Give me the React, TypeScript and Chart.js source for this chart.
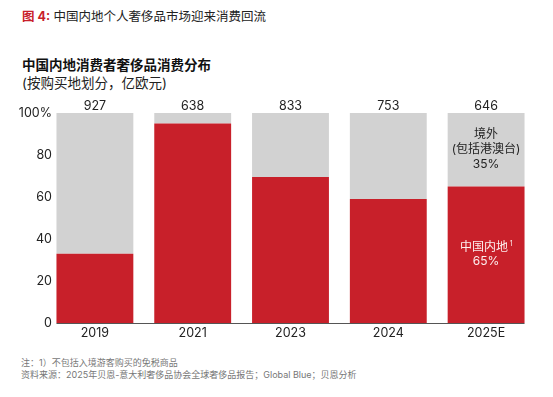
import React, { useEffect, useRef } from "react";
import { Chart, registerables } from "chart.js";

Chart.register(...registerables);

const categories = ["2019", "2021", "2023", "2024", "2025E"];
const mainlandShare = [33, 95, 69.5, 59, 65];
const overseasShare = [67, 5, 30.5, 41, 35];
const totals = ["927", "638", "833", "753", "646"];
const yTicks = [0, 20, 40, 60, 80, 100];

const RED = "#c8202a";
const GRAY = "#d2d2d2";
const FONT = 'Inter, "Noto Sans CJK SC", sans-serif';

const overlayPlugin = {
  id: "overlay",
  afterDatasetsDraw(chart: any) {
    const ctx = chart.ctx;
    const m0 = chart.getDatasetMeta(0);
    const m1 = chart.getDatasetMeta(1);
    const yScale = chart.scales.y;
    const area = chart.chartArea;
    const first = m0.data[0];
    const last = m0.data[m0.data.length - 1];
    const y0 = Math.round(yScale.getPixelForValue(0)) + 0.5;
    ctx.save();
    ctx.strokeStyle = "#555";
    ctx.lineWidth = 1.2;
    ctx.beginPath();
    ctx.moveTo(first.x - first.width / 2, y0);
    ctx.lineTo(last.x + last.width / 2, y0);
    ctx.stroke();

    ctx.fillStyle = "#222";
    ctx.font = "12.5px " + FONT;
    ctx.textAlign = "center";
    ctx.textBaseline = "middle";
    m0.data.forEach((bar: any, i: number) => {
      ctx.fillText(totals[i], bar.x, area.top - 7);
    });

    const li = m0.data.length - 1;
    const gBar = m1.data[li];
    const rBar = m0.data[li];
    ctx.font = "12px " + FONT;
    ctx.fillStyle = "#222";
    const gy = (gBar.y + gBar.base) / 2;
    ctx.fillText("境外", gBar.x, gy - 15);
    ctx.fillText("(包括港澳台)", gBar.x, gy);
    ctx.fillText(overseasShare[li] + "%", gBar.x, gy + 15);

    ctx.fillStyle = "#fdeeee";
    const ry = (rBar.y + rBar.base) / 2;
    ctx.fillText("中国内地", rBar.x - 2, ry - 7);
    const w = ctx.measureText("中国内地").width;
    ctx.font = "7px " + FONT;
    ctx.fillText("1", rBar.x - 2 + w / 2 + 3, ry - 11);
    ctx.font = "12px " + FONT;
    ctx.fillText(mainlandShare[li] + "%", rBar.x, ry + 7);
    ctx.restore();
  },
};

function ChartBox() {
  const ref = useRef<HTMLCanvasElement>(null);
  useEffect(() => {
    if (!ref.current) return;
    const chart = new Chart(ref.current, {
      type: "bar",
      data: {
        labels: categories,
        datasets: [
          {
            label: "中国内地",
            data: mainlandShare,
            backgroundColor: RED,
            categoryPercentage: 1,
            barPercentage: 0.786,
          },
          {
            label: "境外",
            data: overseasShare,
            backgroundColor: GRAY,
            categoryPercentage: 1,
            barPercentage: 0.786,
          },
        ],
      },
      options: {
        animation: false,
        responsive: false,
        maintainAspectRatio: false,
        layout: { padding: { top: 18, right: 18, bottom: 4, left: 0 } },
        plugins: { legend: { display: false }, tooltip: { enabled: false } },
        scales: {
          x: {
            stacked: true,
            grid: { display: false, drawTicks: false },
            border: { display: false },
            ticks: { color: "#222", font: { family: FONT, size: 12.5 }, padding: 3 },
          },
          y: {
            stacked: true,
            min: 0,
            max: 100,
            afterFit: (scale: any) => {
              scale.width = 46;
              scale._computeLabelArea = () => undefined;
            },
            afterBuildTicks: (scale: any) => {
              scale.ticks = yTicks.map((v) => ({ value: v }));
            },
            grid: { display: false, drawTicks: false },
            border: { display: false },
            ticks: {
              color: "#222",
              font: { family: FONT, size: 12.5 },
              padding: -6,
              callback: (v: any) => (v === 100 ? "100%" : String(v)),
            },
          },
        },
      },
      plugins: [overlayPlugin],
    });
    return () => chart.destroy();
  }, []);
  return <canvas ref={ref} width={553} height={253} style={{ position: "absolute", left: 0, top: 95, width: 553, height: 253 }} />;
}

export default function App() {
  return (
    <div style={{ position: "absolute", left: 0, top: 0, width: 553, height: 397, background: "#fff", fontFamily: FONT, overflow: "hidden" }}>
      <div style={{ position: "absolute", left: 22, top: 9, fontSize: 12.5, lineHeight: "16px", color: "#222", whiteSpace: "nowrap" }}>
        <span style={{ color: RED, fontWeight: 700 }}>图 4:</span> 中国内地个人奢侈品市场迎来消费回流
      </div>
      <div style={{ position: "absolute", left: 22, top: 56, fontSize: 13.5, lineHeight: "18px", color: "#111", fontWeight: 700, whiteSpace: "nowrap" }}>
        中国内地消费者奢侈品消费分布
      </div>
      <div style={{ position: "absolute", left: 22, top: 74, fontSize: 13.5, lineHeight: "18px", color: "#222", whiteSpace: "nowrap" }}>
        (按购买地划分，亿欧元)
      </div>
      <ChartBox />
      <div style={{ position: "absolute", left: 21, top: 357, fontSize: 9, lineHeight: "11.5px", color: "#777", whiteSpace: "nowrap" }}>
        <div>注：1）不包括入境游客购买的免税商品</div>
        <div>资料来源：2025年贝恩-意大利奢侈品协会全球奢侈品报告；Global Blue；贝恩分析</div>
      </div>
    </div>
  );
}
